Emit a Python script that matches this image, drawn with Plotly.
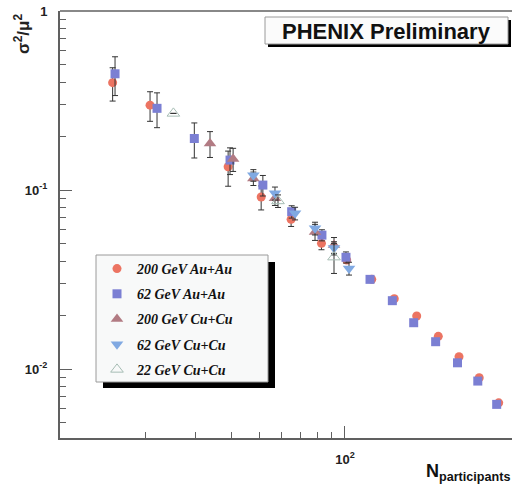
import plotly.graph_objects as go

# ---- data ----
au200_x = [15.3, 20.7, 38.9, 50.8, 64.7, 82.7, 101.4, 124.1, 148.9, 178.5, 212.5, 251.2, 295.8, 346.2]
au200_y = [0.398, 0.298, 0.135, 0.0914, 0.0686, 0.0504, 0.0406, 0.0317, 0.0247, 0.0198, 0.01523, 0.01172, 0.00894, 0.00648]
au200_e = [0.084, 0.056, 0.030, 0.014, 0.006, 0.004, 0.0, 0.0, 0.0, 0.0, 0.0, 0.0, 0.0, 0.0]

au62_x = [15.6, 21.9, 29.6, 39.5, 51.5, 65.0, 83.0, 100.8, 122.4, 146.6, 174.2, 208.0, 248.2, 292.4, 340.6]
au62_y = [0.446, 0.286, 0.194, 0.147, 0.1066, 0.0757, 0.0560, 0.0421, 0.0317, 0.0241, 0.01815, 0.01422, 0.01084, 0.00857, 0.00635]
au62_e = [0.109, 0.063, 0.043, 0.025, 0.014, 0.006, 0.004, 0.003, 0.0, 0.0, 0.0, 0.0, 0.0, 0.0, 0.0]

cu200_x = [33.6, 40.5, 47.7, 56.8, 78.5, 91.5]
cu200_y = [0.182, 0.149, 0.116, 0.090, 0.0583, 0.0493]
cu200_e = [0.030, 0.022, 0.010, 0.008, 0.006, 0.005]

cu62_x = [47.7, 56.8, 66.8, 78.5, 91.5, 103.3]
cu62_y = [0.121, 0.0959, 0.0741, 0.0611, 0.0474, 0.0365]
cu62_e = [0.009, 0.008, 0.006, 0.005, 0.004, 0.003]

cu22_x = [25.0, 58.2, 91.5]
cu22_y = [0.268, 0.0869, 0.0422]
cu22_e = [0.0, 0.007, 0.008]

series_names = ["200 GeV Au+Au", "62 GeV Au+Au", "200 GeV Cu+Cu", "62 GeV Cu+Cu", "22 GeV Cu+Cu"]

x_major = [100]
x_major_text = ["10<sup>2</sup>"]
x_minor = [20, 30, 40, 50, 60, 70, 80, 90]
y_major = [1, 0.1, 0.01]
y_major_text = ["1", "10<sup>-1</sup>", "10<sup>-2</sup>"]
y_minor = [m * d for d in (0.001, 0.01, 0.1) for m in range(2, 10)]

# ---- layout helpers (pixel -> paper) ----
L, R, T, B = 60, 512, 11, 438
def px_x(p):
    return (p - L) / (R - L)
def px_y(p):
    return (B - p) / (B - T)

fig = go.Figure()

def err(arr, vis=True):
    return dict(type="data", array=arr, visible=vis, color="#333333", thickness=1, width=3)

fig.add_trace(go.Scatter(x=au200_x, y=au200_y, mode="markers", name=series_names[0], legendgroup="a",
                         marker=dict(symbol="circle", size=9, color="#ec7462"), error_y=err(au200_e)))
fig.add_trace(go.Scatter(x=au62_x, y=au62_y, mode="markers", name=series_names[1], legendgroup="b",
                         marker=dict(symbol="square", size=9, color="#7b7fd3"), error_y=err(au62_e)))
fig.add_trace(go.Scatter(x=cu200_x, y=cu200_y, mode="markers", name=series_names[2], legendgroup="c",
                         marker=dict(symbol="triangle-up", size=11, color="#b27b83"), error_y=err(cu200_e)))
fig.add_trace(go.Scatter(x=cu62_x, y=cu62_y, mode="markers", name=series_names[3], legendgroup="d",
                         marker=dict(symbol="triangle-down", size=11, color="#80a9e2"), error_y=err(cu62_e)))
fig.add_trace(go.Scatter(x=cu22_x, y=cu22_y, mode="markers", name=series_names[4], legendgroup="e",
                         marker=dict(symbol="triangle-up-open", size=11, color="#a6bdb4", line=dict(width=1)),
                         error_y=err(cu22_e)))

axis_col = "#606060"
fig.update_xaxes(type="log", range=[1, 2.586], showline=True, linecolor=axis_col, linewidth=2,
                 showgrid=False, zeroline=False, ticks="inside", ticklen=12, tickcolor=axis_col, tickwidth=1,
                 tickmode="array", tickvals=x_major, ticktext=x_major_text,
                 tickfont=dict(family="Liberation Sans", size=13, color="#222", weight="bold"),
                 ticklabelstandoff=8,
                 minor=dict(tickmode="array", tickvals=x_minor, ticks="inside", ticklen=6,
                            tickcolor=axis_col, tickwidth=1, showgrid=False))
fig.update_yaxes(type="log", range=[-2.385, 0], showline=True, linecolor=axis_col, linewidth=2,
                 showgrid=False, zeroline=False, ticks="inside", ticklen=12, tickcolor=axis_col, tickwidth=1,
                 tickmode="array", tickvals=y_major, ticktext=y_major_text,
                 tickfont=dict(family="Liberation Sans", size=13, color="#222", weight="bold"),
                 ticklabelstandoff=8,
                 minor=dict(tickmode="array", tickvals=y_minor, ticks="inside", ticklen=6,
                            tickcolor=axis_col, tickwidth=1, showgrid=False))

shapes = [
    # top frame line
    dict(type="line", xref="paper", yref="paper", x0=0, x1=1, y0=1, y1=1,
         line=dict(color="#888888", width=2), layer="below"),
    # legend shadow + box
    dict(type="rect", xref="paper", yref="paper", x0=px_x(103), x1=px_x(275), y0=px_y(388), y1=px_y(262),
         fillcolor="black", line=dict(width=0), layer="below"),
    dict(type="rect", xref="paper", yref="paper", x0=px_x(96), x1=px_x(268), y0=px_y(382), y1=px_y(255),
         fillcolor="#f8f9f9", line=dict(color="#9a9a9a", width=1), layer="below"),
    # PHENIX box shadow + box
    dict(type="rect", xref="paper", yref="paper", x0=px_x(268), x1=px_x(511), y0=px_y(47), y1=px_y(20),
         fillcolor="black", line=dict(width=0), layer="below"),
    dict(type="rect", xref="paper", yref="paper", x0=px_x(265), x1=px_x(508), y0=px_y(44), y1=px_y(17),
         fillcolor="#fbfbfb", line=dict(color="#9a9a9a", width=1), layer="below"),
]

annotations = [
    dict(text="<b>PHENIX Preliminary</b>", xref="paper", yref="paper", x=px_x(386.5), y=px_y(31),
         xanchor="center", yanchor="middle", showarrow=False,
         font=dict(family="Liberation Sans", size=22, color="#111")),
    dict(text="<b>N<sub>participants</sub></b>", xref="paper", yref="paper", x=1.0, y=px_y(472),
         xanchor="right", yanchor="middle", showarrow=False,
         font=dict(family="Liberation Sans", size=18, color="#111")),
    dict(text="<b>σ<sup>2</sup>/μ<sup>2</sup></b>", xref="paper", yref="paper", x=px_x(22), y=px_y(34),
         xanchor="center", yanchor="middle", showarrow=False, textangle=-90,
         font=dict(family="Liberation Sans", size=17, color="#222")),
]

fig.update_layout(
    width=512, height=489,
    margin=dict(l=L, r=0, t=T, b=489 - B, pad=0),
    paper_bgcolor="white", plot_bgcolor="white",
    showlegend=True,
    legend=dict(x=px_x(97), y=px_y(253), xanchor="left", yanchor="top",
                bgcolor="rgba(0,0,0,0)", borderwidth=0, tracegroupgap=4,
                font=dict(family="Liberation Serif", size=14, color="#111", weight="bold", style="italic")),
    shapes=shapes, annotations=annotations,
)

fig.write_html("out.html")
